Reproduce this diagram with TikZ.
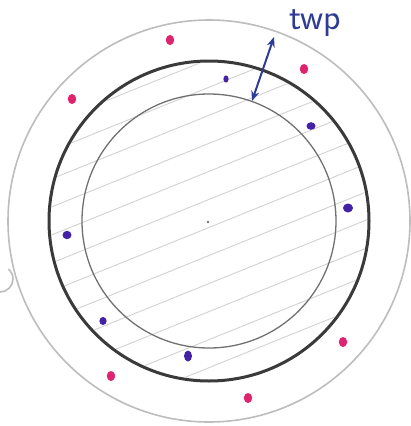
\documentclass[tikz,border=0pt]{standalone}
\usepackage{fontspec}
\usetikzlibrary{arrows.meta}
\definecolor{ringgray}{HTML}{BDBDBD}
\definecolor{darkring}{HTML}{3A3A3A}
\definecolor{innergray}{HTML}{707070}
\definecolor{hatchgray}{HTML}{D2D2D2}
\definecolor{dotpink}{HTML}{E0236E}
\definecolor{dotpurple}{HTML}{4422A8}
\definecolor{penblue}{HTML}{2E3C96}
\tikzset{
  outerring/.style={draw=ringgray, line width=1.6pt},
  thickring/.style={draw=darkring, line width=3pt},
  innerring/.style={draw=innergray, line width=1.3pt},
  hatch/.style={draw=hatchgray, line width=0.9pt},
  pinkdot/.style={fill=dotpink},
  purpledot/.style={fill=dotpurple},
  penarrow/.style={draw=penblue, line width=2pt, {Stealth[length=10pt,width=8pt]}-{Stealth[length=10pt,width=8pt]}},
}
\begin{document}
\begin{tikzpicture}[x=1pt,y=-1pt]
\useasboundingbox (0,0) rectangle (411,426);
\fill[white] (0,0) rectangle (411,426);
\coordinate (c) at (209,221);
% hatching inside the thick ring
\begin{scope}
  \clip (c) circle (158);
  \begin{scope}[shift={(c)}, rotate=22]
    \foreach \d in {-150,-124,...,150}
      \draw[hatch] (-175,\d) -- (175,\d);
  \end{scope}
\end{scope}
% rings
\draw[outerring] (c) circle (201);
\draw[thickring] (c) circle (160);
\draw[innerring] (c) circle (127);
\fill[innergray] (208,222) circle (1.3);
% left edge fragment
\draw[draw=ringgray, line width=1.6pt] (0,292) arc[start angle=90, end angle=-50, radius=13];
% pink dots in outer band
\foreach \p/\n in {(170,40)/p1,(304,69)/p2,(72,99)/p3,(343,342)/p4,(111,376)/p5,(248,398)/p6}
  \fill[pinkdot] \p ellipse[x radius=4.2, y radius=5];
% purple dots in middle band
\fill[purpledot] (226,79) ellipse[x radius=2.6, y radius=3.6];
\fill[purpledot] (311,126) ellipse[x radius=4.5, y radius=3.8];
\fill[purpledot] (348,208) ellipse[x radius=5, y radius=4.5];
\fill[purpledot] (67,235) ellipse[x radius=4.5, y radius=4.2];
\fill[purpledot] (103,321) ellipse[x radius=3.6, y radius=4];
\fill[purpledot] (188,356) ellipse[x radius=4, y radius=5.5];
% thickness arrow and label
\coordinate (atop) at (274,37);
\coordinate (abot) at (252,101);
\draw[penarrow] (atop) -- (abot);
\node[text=penblue, font=\sffamily\fontsize{36}{36}\selectfont, inner sep=0pt] (lbl) at (315,23) {twp};
\end{tikzpicture}
\end{document}
